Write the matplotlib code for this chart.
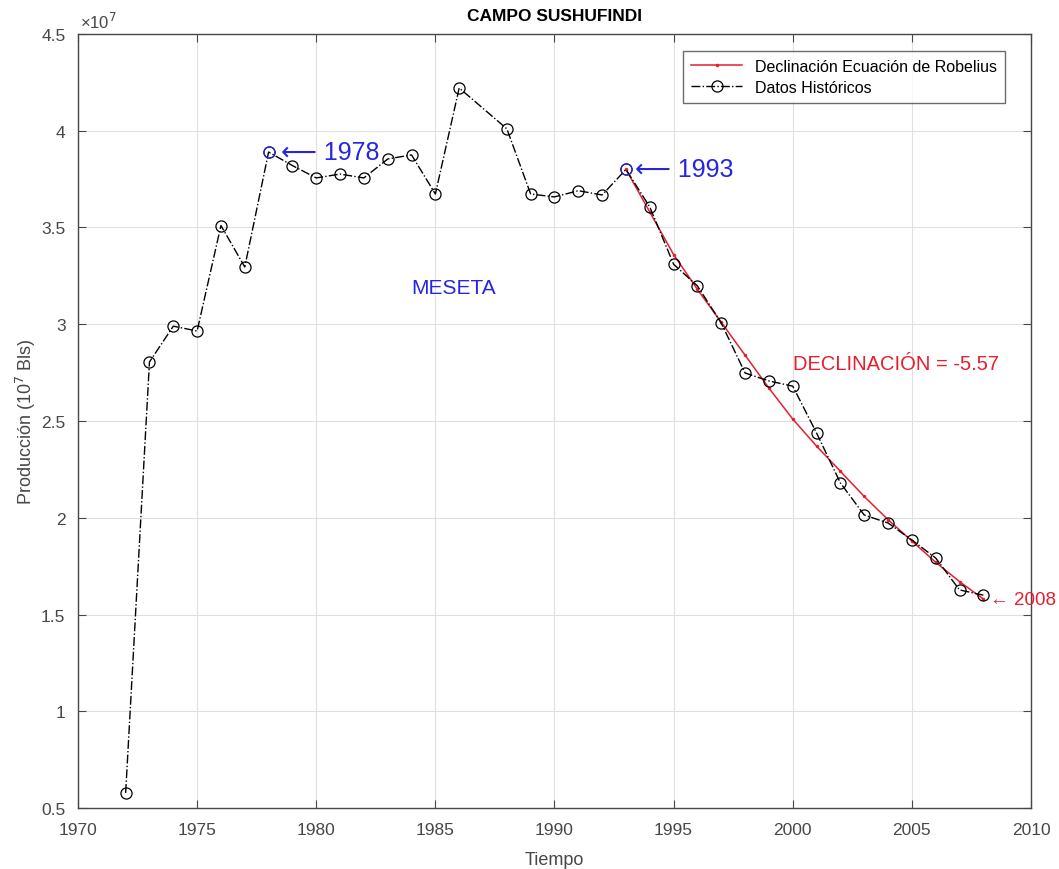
import numpy as np
import matplotlib.pyplot as plt
from matplotlib.ticker import FuncFormatter

plt.rcParams['font.family'] = ['Liberation Sans', 'DejaVu Sans']

# historical field production (bls)
anios = [1972, 1973, 1974, 1975, 1976, 1977, 1978, 1979, 1980, 1981, 1982, 1983,
         1984, 1985, 1986, 1988, 1989, 1990, 1991, 1992, 1993, 1994, 1995, 1996,
         1997, 1998, 1999, 2000, 2001, 2002, 2003, 2004, 2005, 2006, 2007, 2008]
produccion = [0.578, 2.805, 2.99, 2.965, 3.51, 3.296, 3.89, 3.82, 3.756, 3.776, 3.756, 3.854,
              3.875, 3.673, 4.221, 4.01, 3.673, 3.658, 3.69, 3.668, 3.80, 3.606, 3.31, 3.198,
              3.006, 2.748, 2.707, 2.68, 2.438, 2.18, 2.014, 1.973, 1.885, 1.792, 1.627, 1.60]

# Robelius decline fit, 1993-2008
anios_fit = [1993, 1994, 1995, 1996, 1997, 1998, 1999, 2000,
             2001, 2002, 2003, 2004, 2005, 2006, 2007, 2008]
prod_fit = [3.80, 3.58, 3.36, 3.18, 3.01, 2.84, 2.67, 2.51,
            2.37, 2.24, 2.11, 1.99, 1.88, 1.77, 1.67, 1.58]

escala = 1e7
prod = np.array(produccion) * escala
fit = np.array(prod_fit) * escala

azul = (0.15, 0.15, 0.88)
rojo = (0.90, 0.12, 0.18)
gris = (0.28, 0.28, 0.28)

fig = plt.figure(figsize=(10.59, 8.70), dpi=100)
ax = fig.add_axes([0.07365, 0.0701, 0.8999, 0.8897])

ax.plot(anios_fit, fit, '-', color=rojo, lw=1.1, marker='.', ms=3,
        label='Declinación Ecuación de Robelius', zorder=3)
ax.plot(anios, prod, '-.', color='k', lw=1.0, marker='o', ms=8, mfc='none',
        mew=0.9, label='Datos Históricos', zorder=4)

# highlighted years
i78 = anios.index(1978)
i93 = anios.index(1993)
ax.plot([anios[i78], anios[i93]], [prod[i78], prod[i93]], 'o', color=azul,
        ms=8, mfc='none', mew=0.9, zorder=5)

flecha = '\u27f5 '
ax.text(anios[i78] + 0.5, prod[i78], flecha + '1978', color=azul, fontsize=18,
        va='center', ha='left')
ax.text(anios[i93] + 0.4, prod[i93], flecha + '1993', color=azul, fontsize=18,
        va='center', ha='left')
ax.text(1985.75, 3.19e7, 'MESETA', color=azul, fontsize=15, ha='center', va='center')
ax.text(2000.0, 2.795e7, 'DECLINACIÓN = -5.57', color=rojo, fontsize=14.5,
        ha='left', va='center')
ax.text(2008.3, 1.58e7, '\u2190 2008', color=rojo, fontsize=13.5, ha='left',
        va='center', clip_on=False)

ax.set_xlim(1970, 2010)
ax.set_ylim(0.5e7, 4.5e7)
ax.set_xticks(np.arange(1970, 2011, 5))
ax.set_yticks(np.arange(0.5e7, 4.51e7, 0.5e7))
ax.yaxis.set_major_formatter(FuncFormatter(lambda v, p: '%g' % (v / escala)))
ax.text(0.002, 1.004, '\u00d710$^{7}$', transform=ax.transAxes, fontsize=12,
        color=gris, ha='left', va='bottom')

ax.grid(True, color=(0.88, 0.88, 0.88), lw=0.8)
ax.set_axisbelow(True)
ax.tick_params(direction='in', top=True, right=True, labelsize=12.5,
               colors=gris, length=6)
ax.tick_params(axis='x', pad=10)
ax.tick_params(axis='y', pad=9)
for s in ax.spines.values():
    s.set_color(gris)
    s.set_linewidth(1.0)

ax.set_xlabel('Tiempo', fontsize=13, color=gris, labelpad=10)
ax.set_ylabel('Producción (10$^7$ Bls)', fontsize=13, color=gris, labelpad=2)
ax.set_title('CAMPO SUSHUFINDI', fontsize=12.5, fontweight='bold', pad=10)

leg = ax.legend(loc='upper right', bbox_to_anchor=(0.9727, 0.978), borderaxespad=0,
                fontsize=11.5, frameon=True, fancybox=False, edgecolor=gris,
                handlelength=3.2, borderpad=0.5, labelspacing=0.35)
leg.get_frame().set_linewidth(1.0)

fig.savefig('out.png', dpi=100)
